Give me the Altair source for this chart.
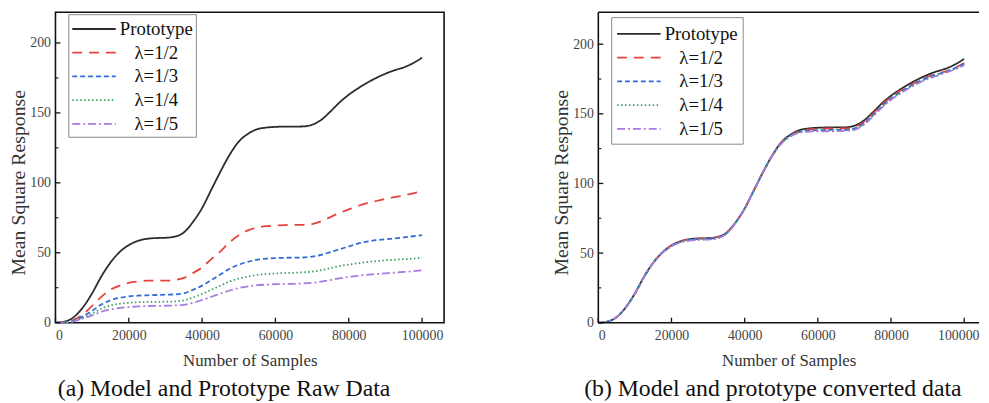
import altair as alt
import pandas as pd

SERIES = ["Prototype", "λ=1/2", "λ=1/3", "λ=1/4", "λ=1/5"]
COLORS = ["#2b2b2b", "#e8423f", "#2f6bd6", "#3a9e5c", "#a77ce0"]
DASHES = [[1, 0], [10, 7], [5, 3], [1.5, 2.5], [8, 3, 2, 3]]

samples = [0, 2500, 5000, 7500, 10000, 12500, 15000, 17500, 20000, 22500,
           25000, 27500, 30000, 32500, 35000, 37500, 40000, 42500, 45000, 47500,
           50000, 52500, 55000, 57500, 60000, 62500, 65000, 67500, 70000, 72500,
           75000, 77500, 80000, 82500, 85000, 87500, 90000, 92500, 95000, 97500,
           100000]

prototype = [0, 0.8, 4, 11, 21, 33, 43, 50.5, 55.5, 58.5,
             60, 60.5, 60.7, 61.5, 64.5, 72, 82, 95, 108, 120,
             129.5, 135, 138.3, 139.5, 140, 140.2, 140.2, 140.3, 141.5, 145,
             151, 157.5, 163, 167.5, 171.5, 175, 178, 180.5, 182.5, 185.5,
             189.5]

# (a) raw model data
raw_2 = [0, 0.2, 2, 6, 12, 18.5, 23.5, 26.5, 28.5, 29.5,
         30, 30, 30, 30.5, 32, 35.5, 39.5, 45.5, 51, 57.5,
         62.5, 66, 68, 69, 69.5, 69.8, 70, 70, 70.5, 72.5,
         75.5, 78.5, 81, 83.5, 85.5, 87, 88.5, 89.8, 91, 92.5,
         94]
raw_3 = [0, 0.2, 1.5, 4.5, 8.5, 13, 16, 17.8, 18.8, 19.3,
         19.6, 19.8, 20, 20.2, 21, 23.5, 26.5, 30.5, 34.5, 38.5,
         41.5, 43.5, 45, 45.8, 46.2, 46.4, 46.5, 46.6, 47.2, 48.5,
         50.5, 52.5, 54.5, 56.5, 58, 59, 59.7, 60.3, 61, 61.8,
         62.6]
raw_4 = [0, 0.2, 1.2, 3.5, 6.5, 10, 12.3, 13.5, 14.2, 14.6,
         14.8, 14.9, 15, 15.2, 16, 18, 20.5, 23.5, 26.5, 29.5,
         31.5, 33, 34.2, 34.8, 35.2, 35.5, 35.7, 36, 36.5, 37.5,
         39, 40.5, 41.5, 42.5, 43.3, 44, 44.6, 45, 45.4, 45.8,
         46.3]
raw_5 = [0, 0.1, 1, 3, 5.2, 7.8, 9.5, 10.5, 11.2, 11.6,
         11.9, 12, 12.1, 12.3, 12.8, 14.3, 16.2, 18.5, 20.8, 23,
         24.8, 26, 26.8, 27.2, 27.5, 27.7, 27.8, 28, 28.5, 29.4,
         30.5, 31.7, 32.7, 33.5, 34.2, 34.8, 35.3, 35.8, 36.3, 36.8,
         37.4]

# (b) converted model data
conv_2 = [0, 0.8, 4, 11, 21, 33, 43, 50.4, 55.4, 58.4,
          59.9, 60.4, 60.6, 61.4, 64.4, 72, 82, 95, 108, 120,
          129.3, 134.5, 137.5, 138.8, 139.3, 139.5, 139.5, 139.5, 140.5, 144,
          150, 156.5, 162, 166.5, 170, 173.5, 176.5, 178.8, 180.5, 183,
          186.5]
conv_3 = [0, 0.8, 4, 11, 21, 33, 43, 50.3, 55.2, 58.2,
          59.6, 60.1, 60.2, 61, 64.2, 71.8, 82, 95, 108, 119.8,
          129, 134.2, 137, 138, 138.3, 138.4, 138.4, 138.5, 139.5, 143,
          149, 155.5, 161, 165.5, 169.5, 173, 176, 178.3, 180.2, 182.8,
          186]
conv_4 = [0, 0.8, 4, 11, 21, 33, 43, 50.2, 55, 58,
          59.3, 59.8, 60, 60.8, 64, 71.6, 81.8, 95, 108, 119.6,
          128.8, 134, 137, 137.7, 138, 138.1, 138.2, 138.3, 139.2, 142.5,
          148.5, 155, 160.5, 165, 169, 172.5, 175.5, 177.8, 180, 182.5,
          185.5]
conv_5 = [0, 0.8, 4, 11, 21, 33, 43, 50.1, 54.8, 57.7,
          59, 59.5, 59.7, 60.5, 63.8, 71.5, 81.7, 95, 108, 119.5,
          128.6, 133.7, 136.5, 137.2, 137.5, 137.5, 137.5, 137.8, 138.5, 142,
          148, 154.5, 160, 164.5, 168.5, 172, 175, 177.3, 179.5, 182,
          185]

x_ticks = [0, 20000, 40000, 60000, 80000, 100000]
y_ticks = [0, 50, 100, 150, 200]
y_minor = [25, 75, 125, 175]

FONT = "Liberation Serif"
H = 314
W1, XMAX1 = 393, 106000      # left panel: full frame
W2, XMAX2 = 385, 104054      # right panel: cut at the page edge like the original


def long_df(series_lists):
    rows = []
    for name, vals in zip(SERIES, series_lists):
        for s, v in zip(samples, vals):
            rows.append({"Samples": s, "Response": v, "Series": name})
    return pd.DataFrame(rows)


def panel(df, width, xmax, ymax, caption, legend_y, legend_pad, cap_dx, cut_right):
    xs = alt.Scale(domain=[0, xmax], nice=False, zero=False)
    ys = alt.Scale(domain=[0, ymax], nice=False)
    x_axis_kw = dict(values=x_ticks, format="d", title="Number of Samples",
                     labelPadding=6, titlePadding=10)
    if cut_right:
        x_axis_kw["labelOffset"] = alt.condition("datum.value == 100000", alt.value(-6), alt.value(0))
    x_axis = alt.Axis(**x_axis_kw)
    y_axis = alt.Axis(values=y_ticks, title="Mean Square Response",
                      labelPadding=5, titlePadding=1, titleFontSize=20, titleY=172)
    legend = alt.Legend(
        orient="none", legendX=13, legendY=legend_y, title=None,
        strokeColor="#8a8a8a", fillColor="white", padding=legend_pad,
        labelFont=FONT, labelFontSize=19, labelColor="#111",
        labelAlign="center", labelOffset=62, labelLimit=200,
        symbolSize=484, symbolStrokeWidth=1.8, symbolType="M-1,0H3",
        rowPadding=2,
    )
    lines = alt.Chart(df).mark_line(strokeWidth=1.8, interpolate="monotone").encode(
        x=alt.X("Samples:Q", scale=xs, axis=x_axis),
        y=alt.Y("Response:Q", scale=ys, axis=y_axis),
        color=alt.Color("Series:N", scale=alt.Scale(domain=SERIES, range=COLORS),
                        sort=SERIES, legend=legend),
        strokeDash=alt.StrokeDash("Series:N", scale=alt.Scale(domain=SERIES, range=DASHES),
                                  sort=SERIES, legend=legend),
    )

    xt = alt.Chart(pd.DataFrame({"Samples": x_ticks})).mark_rule(color="#111", strokeWidth=1.3).encode(
        x=alt.X("Samples:Q", scale=xs, axis=x_axis), y=alt.value(H), y2=alt.value(H - 5))
    yt = alt.Chart(pd.DataFrame({"Response": y_ticks})).mark_rule(color="#111", strokeWidth=1.3).encode(
        y=alt.Y("Response:Q", scale=ys, axis=y_axis), x=alt.value(0), x2=alt.value(5))
    ym = alt.Chart(pd.DataFrame({"Response": y_minor})).mark_rule(color="#111", strokeWidth=1.1).encode(
        y=alt.Y("Response:Q", scale=ys, axis=y_axis), x=alt.value(0), x2=alt.value(3))

    layers = [lines, xt, yt, ym]
    props = dict(
        width=width, height=H,
        title=alt.Title(caption, orient="bottom", anchor="middle", font=FONT,
                        fontSize=24, fontWeight="normal", color="#111", offset=9,
                        dx=cap_dx),
    )
    if cut_right:
        one = pd.DataFrame({"k": [0]})
        frame = dict(color="#111", strokeWidth=1.6)
        layers += [
            alt.Chart(one).mark_rule(**frame).encode(x=alt.value(0), x2=alt.value(width), y=alt.value(0)),
            alt.Chart(one).mark_rule(**frame).encode(x=alt.value(0), x2=alt.value(width), y=alt.value(H)),
            alt.Chart(one).mark_rule(**frame).encode(x=alt.value(0), y=alt.value(0), y2=alt.value(H)),
        ]
        props["view"] = alt.ViewBackground(stroke="transparent")
    return alt.layer(*layers).properties(**props)


df_a = long_df([prototype, raw_2, raw_3, raw_4, raw_5])
df_b = long_df([prototype, conv_2, conv_3, conv_4, conv_5])

left = panel(df_a, W1, XMAX1, 222, "(a) Model and Prototype Raw Data", 2, 3, -26, False)
right = panel(df_b, W2, XMAX2, 223, "(b) Model and prototype converted data", 5, 5, -16, True)

chart = alt.hconcat(left, right, spacing=107).resolve_scale(
    color="independent", strokeDash="independent"
).resolve_legend(
    color="independent", strokeDash="independent"
).configure(
    padding=0, background="white"
).configure_view(
    stroke="#111", strokeWidth=1.6
).configure_axis(
    domain=False, ticks=False, grid=False,
    labelFont=FONT, labelFontSize=14, labelColor="#444",
    titleFont=FONT, titleFontSize=17, titleFontWeight="normal", titleColor="#333",
)

chart.save("out.html", embed_options={"renderer": "svg", "actions": False})
